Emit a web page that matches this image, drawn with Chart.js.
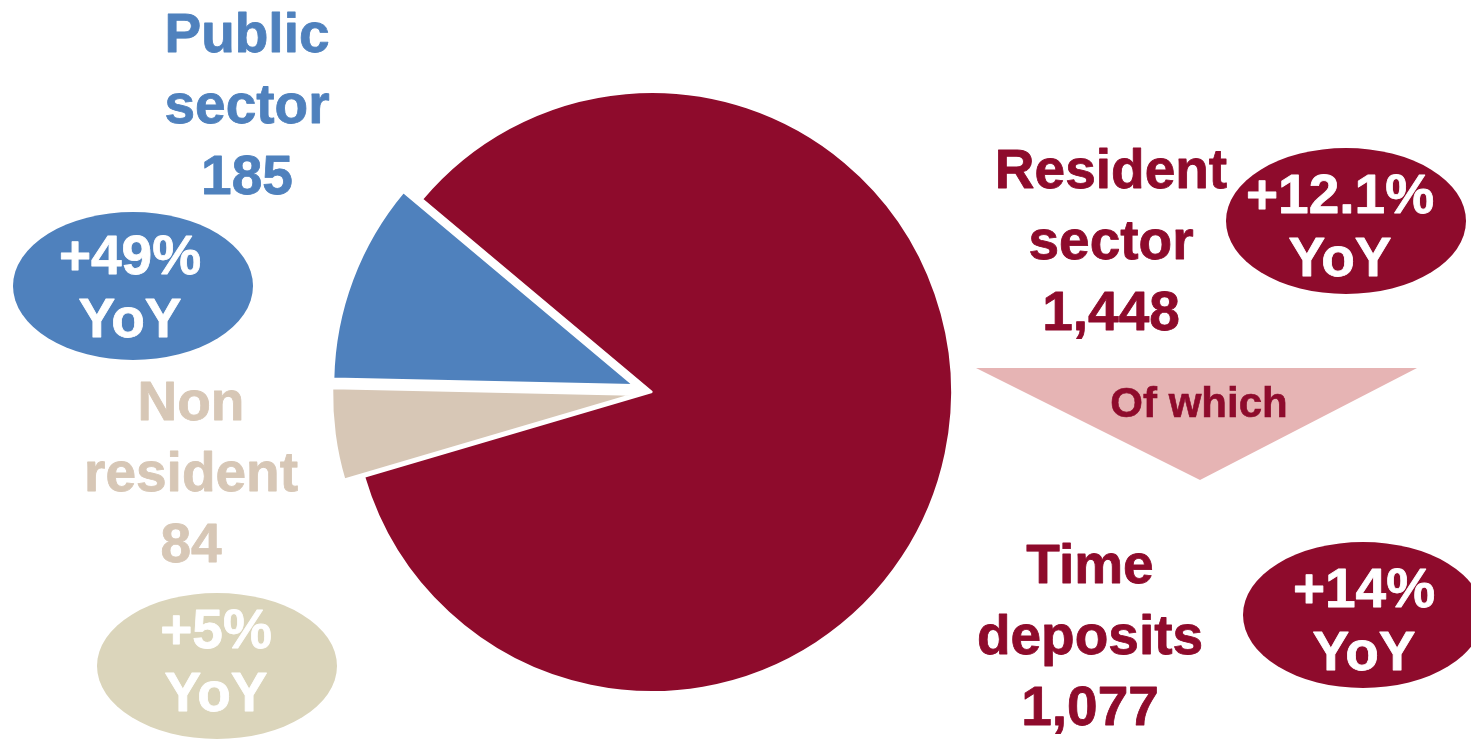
<!DOCTYPE html>
<html>
<head>
<meta charset="utf-8">
<title>Deposits by sector</title>
<script src="https://cdn.jsdelivr.net/npm/chart.js@4.4.1/dist/chart.umd.min.js"></script>
<style>
  html, body { margin: 0; padding: 0; background: #ffffff; }
  #wrap { width: 1471px; height: 739px; position: relative; }
</style>
</head>
<body>
<div id="wrap"><canvas id="chart" width="1471" height="739"></canvas></div>
<script>
// Deposit balances by sector, with year-on-year growth
const categories = ['Resident sector', 'Non resident', 'Public sector'];
const balances = [1448, 84, 185];
const yoyGrowth = ['+12.1%', '+5%', '+49%'];

// Breakdown of the resident sector
const subCategory = 'Time deposits';
const subBalance = 1077;
const subYoy = '+14%';
const bridgeText = 'Of which';

// Styling
const RED = '#8E0B2C';
const BLUE = '#4F81BD';
const BEIGE = '#D7C7B6';
const sliceColors = [RED, BEIGE, BLUE];
const bubbleColors = [RED, '#DBD5BB', BLUE];
const explode = [0, 20, 20];
const FONT = '"Liberation Sans", Arial, Helvetica, sans-serif';

const fmt = v => v.toLocaleString('en-US');

// Placement of the text blocks around the pie (one per category, then the breakdown)
const labelBoxes = [
  { x: 1111, y: 188, bubble: { cx: 1346, cy: 221, rx: 120, ry: 73, tx: 1340, ty: 213 } },
  { x: 191, y: 420, bubble: { cx: 217, cy: 666, rx: 120, ry: 73, tx: 216, ty: 648 } },
  { x: 247, y: 52, bubble: { cx: 133, cy: 286, rx: 120, ry: 74, tx: 130, ty: 274 } }
];
const subBox = { x: 1090, y: 583, bubble: { cx: 1363, cy: 615, rx: 120, ry: 73, tx: 1364, ty: 607 } };
const LINE = 71;

// bold text with a thin outline of the same colour for a heavier weight
function heavyText(ctx, t, x, y) {
  ctx.fillText(t, x, y);
  ctx.strokeText(t, x, y);
}

function drawBlock(ctx, name, value, growth, box, color, bubbleColor) {
  ctx.save();
  ctx.textAlign = 'center';
  ctx.textBaseline = 'alphabetic';
  ctx.font = 'bold 55px ' + FONT;
  ctx.lineWidth = 0.8;
  ctx.lineJoin = 'round';
  ctx.fillStyle = color;
  ctx.strokeStyle = color;
  const lines = name.split(' ').concat([fmt(value)]);
  lines.forEach((t, i) => heavyText(ctx, t, box.x, box.y + i * LINE));

  const b = box.bubble;
  ctx.beginPath();
  ctx.ellipse(b.cx, b.cy, b.rx, b.ry, 0, 0, Math.PI * 2);
  ctx.fillStyle = bubbleColor;
  ctx.fill();
  ctx.fillStyle = '#ffffff';
  ctx.strokeStyle = '#ffffff';
  heavyText(ctx, growth, b.tx, b.ty);
  heavyText(ctx, 'YoY', b.tx, b.ty + 63);
  ctx.restore();
}

const annotations = {
  id: 'annotations',
  afterDatasetUpdate(chart, args) {
    // pull the smaller slices out from the centre along their mid angle
    const meta = chart.getDatasetMeta(args.index);
    meta.data.forEach((arc, i) => {
      const mid = (arc.startAngle + arc.endAngle) / 2;
      arc.x += Math.cos(mid) * explode[i];
      arc.y += Math.sin(mid) * explode[i];
    });
  },
  afterDraw(chart) {
    const ctx = chart.ctx;
    categories.forEach((c, i) => {
      drawBlock(ctx, c, balances[i], yoyGrowth[i], labelBoxes[i], sliceColors[i], bubbleColors[i]);
    });

    // "Of which" arrow
    ctx.save();
    ctx.beginPath();
    ctx.moveTo(976, 368);
    ctx.lineTo(1417, 368);
    ctx.lineTo(1200, 480);
    ctx.closePath();
    ctx.fillStyle = '#E6B4B4';
    ctx.fill();
    ctx.font = 'bold 42px ' + FONT;
    ctx.textAlign = 'center';
    ctx.fillStyle = RED;
    ctx.strokeStyle = RED;
    ctx.lineWidth = 0.6;
    heavyText(ctx, bridgeText, 1199, 417);
    ctx.restore();

    drawBlock(ctx, subCategory, subBalance, subYoy, subBox, RED, RED);
  }
};

new Chart(document.getElementById('chart'), {
  type: 'pie',
  data: {
    labels: categories,
    datasets: [{
      data: balances,
      backgroundColor: sliceColors,
      borderColor: '#ffffff',
      borderWidth: 2
    }]
  },
  options: {
    responsive: false,
    animation: false,
    rotation: -50,
    radius: 300,
    layout: { padding: { left: 0, right: 167, top: 45, bottom: 0 } },
    plugins: {
      legend: { display: false },
      tooltip: { enabled: false }
    },
    events: []
  },
  plugins: [annotations]
});
</script>
</body>
</html>
